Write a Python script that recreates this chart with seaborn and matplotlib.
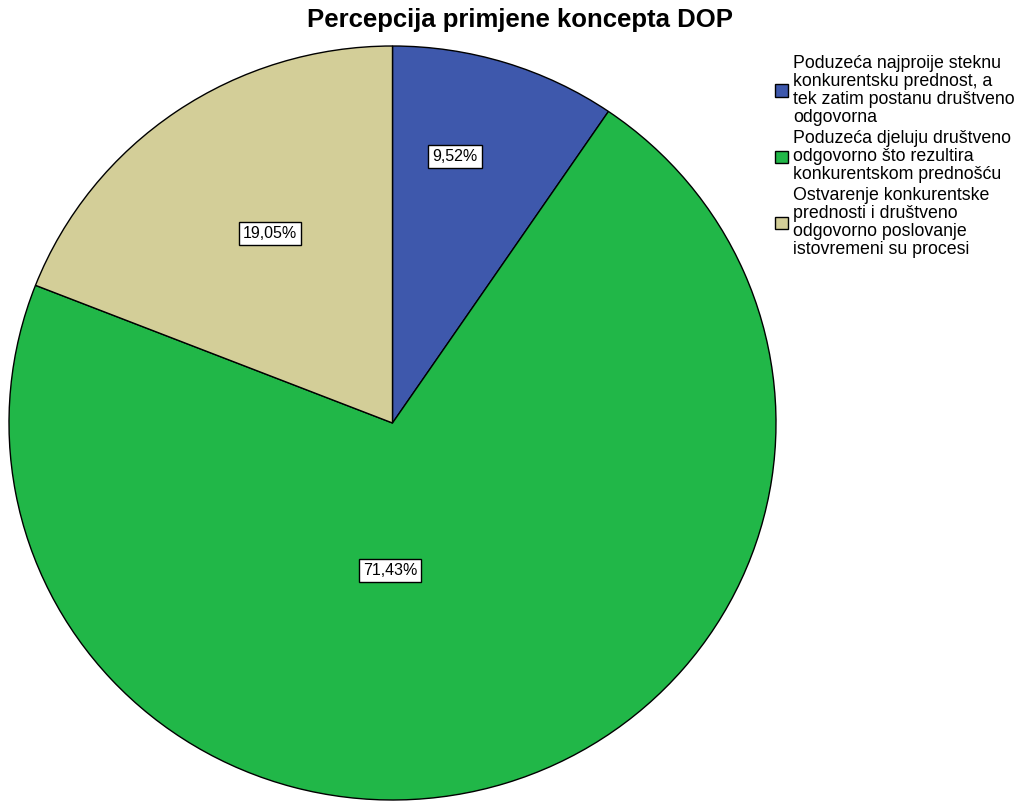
import numpy as np
import matplotlib
matplotlib.use("Agg")
import matplotlib.pyplot as plt
import seaborn as sns

# data
categories = [
    "Poduzeća najproije steknu\nkonkurentsku prednost, a\ntek zatim postanu društveno\nodgovorna",
    "Poduzeća djeluju društveno\nodgovorno što rezultira\nkonkurentskom prednošću",
    "Ostvarenje konkurentske\nprednosti i društveno\nodgovorno poslovanje\nistovremeni su procesi",
]
percent = [9.52, 71.43, 19.05]
pct_labels = ["9,52%", "71,43%", "19,05%"]
colors = ["#3E58AC", "#21B748", "#D3CE98"]

# where SPSS drops the value boxes (angle in degrees, fraction of radius)
label_angle = [77.0, -91.0, 122.3]
label_rad = [0.725, 0.39, 0.596]

sns.set_style("white")
plt.rcParams["font.family"] = ["Liberation Sans", "DejaVu Sans"]
plt.rcParams["text.color"] = "black"

fig = plt.figure(figsize=(10.24, 8.01), dpi=100)
ax = fig.add_axes([9 / 1024, 1 / 801, 767 / 1024, 754 / 801])

wedges, _ = ax.pie(percent, colors=colors, startangle=90, counterclock=False,
                   radius=1, wedgeprops=dict(edgecolor="black", linewidth=1))
ax.set_aspect("auto")
ax.set_xlim(-1, 1)
ax.set_ylim(-1, 1)
ax.axis("off")

for lab, a, r in zip(pct_labels, label_angle, label_rad):
    t = np.deg2rad(a)
    ax.text(r * np.cos(t), r * np.sin(t), lab, ha="center", va="center",
            fontsize=11.5, color="black",
            bbox=dict(boxstyle="square,pad=0.25", fc="white", ec="black", lw=1))

fig.text(0.508, 0.975, "Percepcija primjene koncepta DOP", ha="center",
         va="center", fontsize=18.5, fontweight="bold", color="black")

leg = fig.legend(wedges, categories, loc="upper left",
                 bbox_to_anchor=(775 / 1024, 1 - 55 / 801), frameon=False,
                 fontsize=12.8, borderpad=0, borderaxespad=0, handlelength=0.72,
                 handleheight=0.72, handletextpad=0.3, labelspacing=0.25)
for txt in leg.get_texts():
    txt.set_linespacing(1.07)
    txt.set_color("black")

plt.savefig("out.png", dpi=100)
